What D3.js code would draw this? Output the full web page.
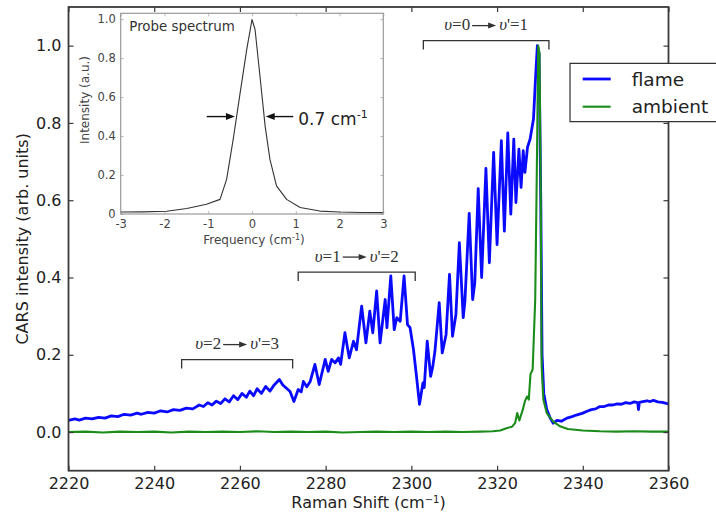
<!DOCTYPE html>
<html>
<head>
<meta charset="utf-8">
<script src="https://cdn.jsdelivr.net/npm/d3@7"></script>
<style>
  html, body { margin: 0; padding: 0; background: #fff; }
  svg { display: block; }
</style>
</head>
<body>
<script>
// ---------------- data ----------------
const xTicks = [2220, 2240, 2260, 2280, 2300, 2320, 2340, 2360];
const yTicks = [0.0, 0.2, 0.4, 0.6, 0.8, 1.0];
const seriesNames = ["flame", "ambient"];
const seriesColors = ["#0a0aff", "#1a8c1a"];

const flamePoints = [
  [2220,0.030],[2221.5,0.034],[2222.5,0.031],[2224,0.036],[2225.5,0.034],[2227,0.038],
  [2228.5,0.036],[2230,0.042],[2231.5,0.040],[2233,0.046],[2234.5,0.044],[2236,0.049],
  [2237,0.046],[2238.5,0.051],[2240,0.049],[2241.5,0.055],[2243,0.052],[2244.5,0.058],
  [2246,0.056],[2247.5,0.062],[2249,0.060],[2250.5,0.070],[2251.5,0.066],[2252.5,0.076],
  [2253.5,0.070],[2254.5,0.080],[2255.5,0.074],[2256.5,0.086],[2257.5,0.078],[2258.5,0.094],
  [2259.5,0.084],[2260.5,0.100],[2261.5,0.090],[2262.3,0.106],[2263.2,0.094],[2264,0.112],
  [2265,0.100],[2266,0.118],[2267,0.106],[2268,0.122],[2269.2,0.136],[2270,0.122],
  [2270.8,0.114],[2271.7,0.105],[2272.6,0.079],[2273.6,0.110],[2274.3,0.104],[2274.8,0.131],
  [2275.6,0.117],[2276.4,0.131],[2277.5,0.175],[2278.5,0.123],[2279.9,0.188],[2280.6,0.157],
  [2281.4,0.188],[2282.2,0.179],[2283,0.192],[2283.5,0.175],[2284.5,0.257],[2285.5,0.192],
  [2286.5,0.235],[2287.2,0.213],[2288.4,0.326],[2289.4,0.231],[2290.3,0.313],[2291,0.257],
  [2291.9,0.365],[2292.7,0.231],[2293.9,0.343],[2294.3,0.270],[2295.2,0.404],[2296,0.265],
  [2296.6,0.296],[2297.4,0.287],[2298.3,0.404],[2299.1,0.278],[2299.7,0.270],[2300.5,0.213],
  [2301.2,0.144],[2301.9,0.072],[2302.7,0.127],[2303,0.115],[2303.7,0.235],[2304.5,0.144],
  [2305,0.170],[2305.5,0.209],[2306.5,0.335],[2307.2,0.205],[2308.1,0.252],[2308.9,0.408],
  [2309.6,0.248],[2310.4,0.304],[2311.2,0.490],[2312.1,0.296],[2312.5,0.339],[2313.5,0.566],
  [2314.3,0.343],[2314.8,0.386],[2315.6,0.630],[2316.4,0.400],[2317.4,0.682],[2318.2,0.438],
  [2319.2,0.724],[2320,0.485],[2321,0.754],[2321.7,0.520],[2322.5,0.774],[2323.2,0.564],
  [2323.9,0.758],[2324.4,0.594],[2325.1,0.732],[2325.6,0.633],[2326.1,0.728],[2326.5,0.672],
  [2327.1,0.737],[2327.7,0.758],[2328.1,0.784],[2328.5,0.810],[2328.9,0.900],[2329.4,1.000],
  [2329.8,0.980],[2330.2,0.600],[2330.5,0.200],[2330.9,0.100],[2331.6,0.058],[2332.4,0.036],
  [2333.1,0.023],[2334,0.030],[2335,0.028],[2336.3,0.036],[2337.5,0.040],[2338.5,0.044],
  [2340,0.049],[2341,0.054],[2342,0.058],[2343,0.060],[2344,0.066],[2345,0.066],
  [2346,0.070],[2347,0.070],[2348,0.073],[2349,0.072],[2350,0.076],[2351,0.074],
  [2352,0.078],[2352.8,0.076],[2353,0.058],[2353.2,0.077],[2354,0.079],[2355,0.081],
  [2355.7,0.079],[2356.5,0.082],[2357.5,0.078],[2358.5,0.077],[2359.5,0.074],[2360,0.073]
];

const ambientPoints = [
  [2220,0.000],[2224,0.001],[2228,-0.001],[2232,0.001],[2236,0.000],[2240,0.001],
  [2244,-0.001],[2248,0.001],[2252,0.000],[2256,0.001],[2260,0.000],[2264,0.002],
  [2268,0.000],[2272,0.001],[2276,0.000],[2280,0.001],[2284,-0.001],[2288,0.000],
  [2292,0.001],[2296,0.000],[2300,0.001],[2304,0.000],[2308,0.001],[2312,0.000],
  [2316,0.001],[2319,0.002],[2320.7,0.004],[2322.2,0.010],[2323.5,0.014],[2324.2,0.023],
  [2324.7,0.049],[2325.2,0.030],[2326,0.058],[2326.5,0.080],[2327,0.092],[2327.4,0.084],
  [2327.8,0.150],[2328.3,0.162],[2328.9,0.343],[2329.3,0.700],[2329.6,1.000],[2329.9,0.980],
  [2330.2,0.600],[2330.4,0.170],[2330.8,0.084],[2331.6,0.049],[2333.1,0.027],[2334.7,0.015],
  [2336.5,0.008],[2340,0.004],[2344,0.002],[2348,0.001],[2352,0.002],[2356,0.001],[2360,0.001]
];

const probeXTicks = [-3, -2, -1, 0, 1, 2, 3];
const probeYTicks = [0, 0.2, 0.4, 0.6, 0.8, 1.0];
const probePoints = [
  [-3,0.010],[-2.5,0.011],[-1.95,0.014],[-1.49,0.028],[-1.04,0.050],[-0.73,0.075],
  [-0.58,0.178],[-0.43,0.383],[-0.27,0.623],[-0.12,0.845],[0,0.998],[0.07,0.947],
  [0.19,0.690],[0.30,0.451],[0.41,0.280],[0.56,0.144],[0.79,0.075],[1.10,0.033],
  [1.55,0.015],[2.0,0.010],[2.5,0.008],[3,0.007]
];

const transitions = [
  { lower: 2, upper: 3, x0: 2246.4, x1: 2272.3, y: 0.1875 },
  { lower: 1, upper: 2, x0: 2273.6, x1: 2300.9, y: 0.414 },
  { lower: 0, upper: 1, x0: 2302.8, x1: 2332.1, y: 1.013 }
];

// ---------------- layout ----------------
const W = 716, H = 518;
const svg = d3.select("body").append("svg").attr("width", W).attr("height", H)
  .style("font-family", "'DejaVu Sans', sans-serif");
svg.append("rect").attr("width", W).attr("height", H).attr("fill", "#fff");

const x = d3.scaleLinear().domain([2220, 2360]).range([68.5, 668.5]);
const y = d3.scaleLinear().domain([-0.1, 1.1]).range([470.7, 7]);
const frameColor = "#3a3a3a";

svg.append("clipPath").attr("id", "plotclip").append("rect")
  .attr("x", x(2220)).attr("y", y(1.1)).attr("width", x(2360) - x(2220)).attr("height", y(-0.1) - y(1.1));

const line = d3.line().x(d => x(d[0])).y(d => y(d[1]));
const plotG = svg.append("g").attr("clip-path", "url(#plotclip)");
plotG.append("path").datum(flamePoints).attr("d", line)
  .attr("fill", "none").attr("stroke", seriesColors[0]).attr("stroke-width", 2.8)
  .attr("stroke-linejoin", "round");
plotG.append("path").datum(ambientPoints).attr("d", line)
  .attr("fill", "none").attr("stroke", seriesColors[1]).attr("stroke-width", 2.1)
  .attr("stroke-linejoin", "round");

function styleAxis(g, fs, col) {
  g.select(".domain").remove();
  g.selectAll(".tick line").attr("stroke", frameColor).attr("stroke-width", 1.2);
  g.selectAll(".tick text").attr("font-size", fs).attr("fill", col)
    .attr("font-family", "'DejaVu Sans', sans-serif");
}
const fmt1 = d3.format(".1f");
svg.append("g").attr("transform", `translate(0,${y(-0.1)})`)
  .call(d3.axisBottom(x).tickValues(xTicks).tickSize(-5).tickPadding(6.5).tickFormat(d3.format("d")))
  .call(g => styleAxis(g, 16, "#222"));
svg.append("g").attr("transform", `translate(0,${y(1.1)})`)
  .call(d3.axisTop(x).tickValues(xTicks).tickSize(-5).tickFormat(""))
  .call(g => styleAxis(g, 16, "#222"));
svg.append("g").attr("transform", `translate(${x(2220)},0)`)
  .call(d3.axisLeft(y).tickValues(yTicks).tickSize(-5).tickPadding(7).tickFormat(fmt1))
  .call(g => styleAxis(g, 16, "#222"));
svg.append("g").attr("transform", `translate(${x(2360)},0)`)
  .call(d3.axisRight(y).tickValues(yTicks).tickSize(-5).tickFormat(""))
  .call(g => styleAxis(g, 16, "#222"));

svg.append("rect").attr("x", x(2220)).attr("y", y(1.1))
  .attr("width", x(2360) - x(2220)).attr("height", y(-0.1) - y(1.1))
  .attr("fill", "none").attr("stroke", frameColor).attr("stroke-width", 1.8);

svg.append("text").attr("transform", `translate(28,${(y(1.1) + y(-0.1)) / 2}) rotate(-90)`)
  .attr("text-anchor", "middle").attr("font-size", 16).attr("fill", "#222")
  .text("CARS intensity (arb. units)");
const xl = svg.append("text").attr("x", (x(2220) + x(2360)) / 2).attr("y", 508)
  .attr("text-anchor", "middle").attr("font-size", 16).attr("fill", "#222");
xl.append("tspan").text("Raman Shift (cm");
xl.append("tspan").attr("font-size", 10).attr("dy", -5.5).text("\u22121");
xl.append("tspan").attr("dy", 5.5).text(")");

// transition brackets
const annG = svg.append("g");
transitions.forEach(t => {
  const xa = x(t.x0), xb = x(t.x1), yy = y(t.y);
  annG.append("path")
    .attr("d", `M${xa},${yy + 9}V${yy}H${xb}V${yy + 9}`)
    .attr("fill", "none").attr("stroke", "#333").attr("stroke-width", 1.3);
  const cx = (xa + xb) / 2 + 1, base = yy - 10.5;
  const ay = base - 4.5;
  const a0 = cx - 15, a1 = cx + 9;
  annG.append("line").attr("x1", a0).attr("x2", a1 - 6).attr("y1", ay).attr("y2", ay)
    .attr("stroke", "#333").attr("stroke-width", 1.3);
  annG.append("path").attr("d", `M${a1},${ay}L${a1 - 8},${ay - 3}L${a1 - 8},${ay + 3}Z`).attr("fill", "#333");
  const lt = annG.append("text").attr("x", a0 - 2).attr("y", base).attr("text-anchor", "end")
    .attr("font-family", "'Liberation Serif', 'DejaVu Serif', serif").attr("font-size", 17).attr("fill", "#333");
  lt.append("tspan").attr("font-style", "italic").text("\u03C5");
  lt.append("tspan").text("=" + t.lower);
  const rt = annG.append("text").attr("x", a1 + 3).attr("y", base).attr("text-anchor", "start")
    .attr("font-family", "'Liberation Serif', 'DejaVu Serif', serif").attr("font-size", 17).attr("fill", "#333");
  rt.append("tspan").attr("font-style", "italic").text("\u03C5");
  rt.append("tspan").text("'=" + t.upper);
});

// legend (runs off the right edge like the reference)
const lg = svg.append("g");
lg.append("rect").attr("x", 570).attr("y", 63.3).attr("width", W - 570).attr("height", 58.4).attr("fill", "#fff");
lg.append("path").attr("d", `M${W},63.3H570V121.7H${W}`).attr("fill", "none").attr("stroke", "#333").attr("stroke-width", 1.2);
seriesNames.forEach((n, i) => {
  const yy = 79 + i * 27.7;
  lg.append("line").attr("x1", 582.7).attr("x2", 610.7).attr("y1", yy).attr("y2", yy)
    .attr("stroke", seriesColors[i]).attr("stroke-width", i === 0 ? 2.8 : 2.1);
  lg.append("text").attr("x", 631.7).attr("y", yy + 6.5).attr("font-size", 18.5).attr("fill", "#222").text(n);
});

// ---------------- inset ----------------
const ix = d3.scaleLinear().domain([-3, 3]).range([120.7, 383.3]);
const iy = d3.scaleLinear().domain([0, 1.03]).range([214, 13.3]);
const inset = svg.append("g");
inset.append("rect").attr("x", ix(-3)).attr("y", iy(1.03)).attr("width", ix(3) - ix(-3)).attr("height", iy(0) - iy(1.03))
  .attr("fill", "#fff");
const insetTickCol = "#aaa";
function styleInset(g) {
  g.select(".domain").remove();
  g.selectAll(".tick line").attr("stroke", insetTickCol).attr("stroke-width", 0.8);
  g.selectAll(".tick text").attr("font-size", 11.5).attr("fill", "#444")
    .attr("font-family", "'DejaVu Sans', sans-serif");
}
const ifmt = d => d === 0 ? "0" : d3.format(".1f")(d);
const xfmt = d => (d < 0 ? "-" : "") + Math.abs(d);
inset.append("g").attr("transform", `translate(0,${iy(0)})`)
  .call(d3.axisBottom(ix).tickValues(probeXTicks).tickSize(-3).tickPadding(6).tickFormat(xfmt)).call(styleInset);
inset.append("g").attr("transform", `translate(0,${iy(1.03)})`)
  .call(d3.axisTop(ix).tickValues(probeXTicks).tickSize(-3).tickFormat("")).call(styleInset);
inset.append("g").attr("transform", `translate(${ix(-3)},0)`)
  .call(d3.axisLeft(iy).tickValues(probeYTicks).tickSize(-3).tickPadding(5).tickFormat(ifmt)).call(styleInset);
inset.append("g").attr("transform", `translate(${ix(3)},0)`)
  .call(d3.axisRight(iy).tickValues(probeYTicks).tickSize(-3).tickFormat("")).call(styleInset);

const iline = d3.line().x(d => ix(d[0])).y(d => iy(d[1]));
inset.append("path").datum(probePoints).attr("d", iline)
  .attr("fill", "none").attr("stroke", "#333").attr("stroke-width", 1.1).attr("stroke-linejoin", "round");

inset.append("rect").attr("x", ix(-3)).attr("y", iy(1.03)).attr("width", ix(3) - ix(-3)).attr("height", iy(0) - iy(1.03))
  .attr("fill", "none").attr("stroke", "#999").attr("stroke-width", 1.2);

inset.append("text").attr("x", 129.3).attr("y", 30.5).attr("font-size", 13.4).attr("fill", "#333").text("Probe spectrum");
inset.append("text").attr("transform", `translate(89,100) rotate(-90)`).attr("text-anchor", "middle")
  .attr("font-size", 12).attr("fill", "#444").text("Intensity (a.u.)");
const fl = inset.append("text").attr("x", 254).attr("y", 244).attr("text-anchor", "middle")
  .attr("font-size", 12).attr("fill", "#444");
fl.append("tspan").text("Frequency (cm");
fl.append("tspan").attr("font-size", 8).attr("dy", -4).text("-1");
fl.append("tspan").attr("dy", 4).text(")");

// FWHM arrows
const ay0 = iy(0.5);
function arrow(xFrom, xTo) {
  const a = ix(xFrom), b = ix(xTo), dir = b > a ? 1 : -1;
  inset.append("line").attr("x1", a).attr("x2", b - dir * 6).attr("y1", ay0).attr("y2", ay0)
    .attr("stroke", "#111").attr("stroke-width", 1.4);
  inset.append("path").attr("d", `M${b},${ay0}L${b - dir * 9},${ay0 - 3.5}L${b - dir * 9},${ay0 + 3.5}Z`).attr("fill", "#111");
}
arrow(-1.035, -0.39);
arrow(0.943, 0.313);
const fw = inset.append("text").attr("x", 298.3).attr("y", 125).attr("font-size", 17).attr("fill", "#222");
fw.append("tspan").text("0.7 cm");
fw.append("tspan").attr("font-size", 11).attr("dy", -7).text("-1");
</script>
</body>
</html>
